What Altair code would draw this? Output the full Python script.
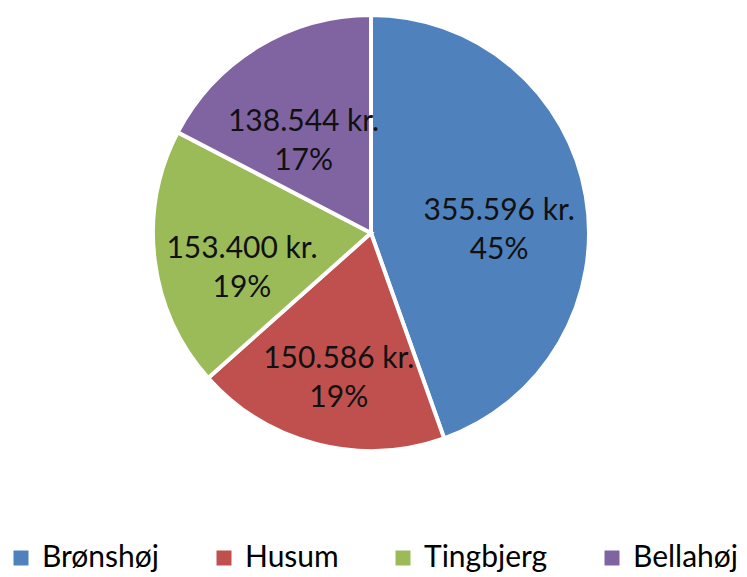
import altair as alt
import pandas as pd

categories = ["Brønshøj", "Husum", "Tingbjerg", "Bellahøj"]
values = [355596, 150586, 153400, 138544]
colors = ["#4F81BD", "#C0504D", "#9BBB59", "#8064A2"]

total = sum(values)
def fmt(v):
    return f"{v:,}".replace(",", ".") + " kr."
labels = [f"{fmt(v)}\n{round(100 * v / total)}%" for v in values]

df = pd.DataFrame({"cat": categories, "val": values, "label": labels, "order": list(range(len(values)))})

base = alt.Chart(df).encode(
    theta=alt.Theta("val:Q", stack=True),
    order=alt.Order("order:Q"),
)

pie = base.mark_arc(outerRadius=218, stroke="white", strokeWidth=4, x=363, y=225).encode(
    color=alt.Color(
        "cat:N",
        scale=alt.Scale(domain=categories, range=colors),
        sort=categories,
        legend=alt.Legend(
            title=None,
            orient="none",
            direction="horizontal",
            legendX=-2,
            legendY=535,
            padding=0,
            symbolType="square",
            symbolSize=225,
            symbolStrokeWidth=0,
            labelFont="Lato",
            labelFontSize=30,
            labelColor="#000000",
            labelOffset=6,
            columnPadding=49,
            labelLimit=300,
        ),
    )
)

text = base.mark_text(
    radius=130, x=363, y=225, font="Lato", fontSize=30, lineBreak="\n", lineHeight=39, color="#111111"
).encode(text="label:N")

chart = (
    (pie + text)
    .properties(width=731, height=569, padding=0, autosize=alt.AutoSizeParams(type="none"))
    .configure_view(stroke=None)
    .configure(background="white")
)

chart.save("out.html", embed_options={"renderer": "svg", "actions": False})
